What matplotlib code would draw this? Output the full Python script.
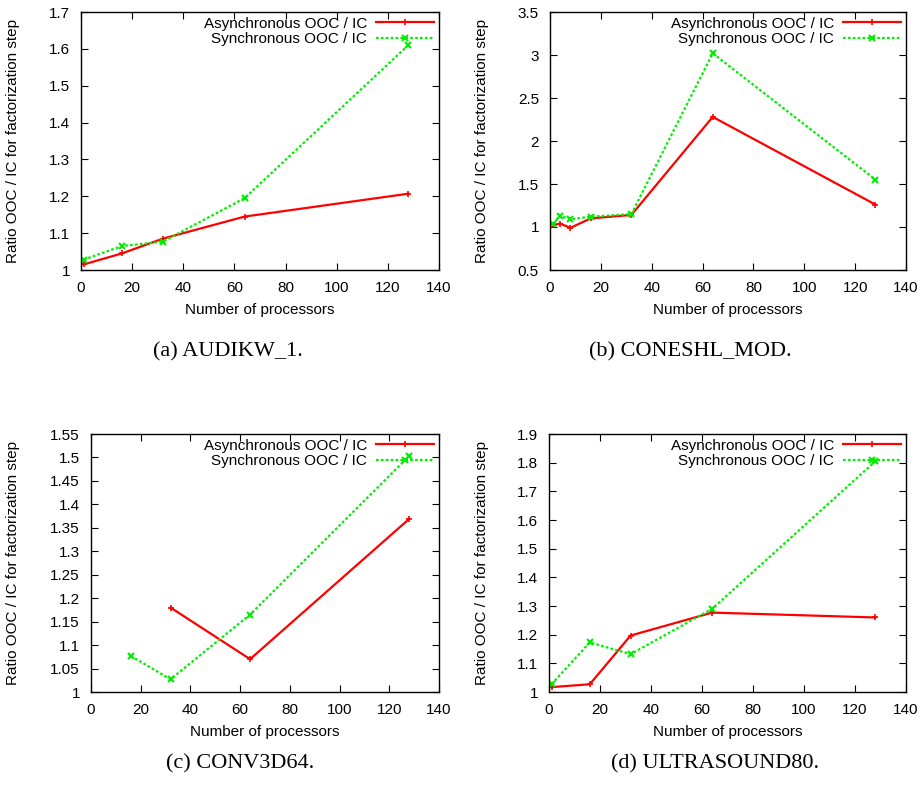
import numpy as np
import matplotlib
matplotlib.use("Agg")
import matplotlib.pyplot as plt

# data
a_async_x = [1, 16, 32, 64, 128]
a_async_y = [1.015, 1.045, 1.085, 1.145, 1.207]
a_sync_x = [1, 16, 32, 64, 128]
a_sync_y = [1.028, 1.065, 1.077, 1.195, 1.61]

b_async_x = [1, 4, 8, 16, 32, 64, 128]
b_async_y = [1.02, 1.04, 0.99, 1.10, 1.14, 2.28, 1.26]
b_sync_x = [1, 4, 8, 16, 32, 64, 128]
b_sync_y = [1.03, 1.13, 1.09, 1.12, 1.15, 3.02, 1.55]

c_async_x = [32, 64, 128]
c_async_y = [1.18, 1.07, 1.369]
c_sync_x = [16, 32, 64, 128]
c_sync_y = [1.077, 1.027, 1.165, 1.503]

d_async_x = [1, 16, 32, 64, 128]
d_async_y = [1.017, 1.027, 1.197, 1.277, 1.26]
d_sync_x = [1, 16, 32, 64, 128]
d_sync_y = [1.027, 1.173, 1.132, 1.29, 1.805]

captions = ["(a) AUDIKW_1.", "(b) CONESHL_MOD.", "(c) CONV3D64.", "(d) ULTRASOUND80."]
ylims = [(1, 1.7), (0.5, 3.5), (1, 1.55), (1, 1.9)]
ysteps = [0.1, 0.5, 0.05, 0.1]

series = [
    (a_async_x, a_async_y, a_sync_x, a_sync_y),
    (b_async_x, b_async_y, b_sync_x, b_sync_y),
    (c_async_x, c_async_y, c_sync_x, c_sync_y),
    (d_async_x, d_async_y, d_sync_x, d_sync_y),
]

W, H = 924, 790
fig = plt.figure(figsize=(W / 100, H / 100), dpi=100)
plt.rcParams['font.family'] = ['Liberation Sans', 'DejaVu Sans']

# axes boxes in pixels: left, right, top, bottom
boxes = [(81, 439, 12, 270), (550, 906, 12, 270),
         (91, 439, 434, 692), (549, 906, 434, 692)]
ylab_x = [20, 489, 20, 489]
cap_xy = [(228, 352), (690, 352), (240, 764), (715, 764)]

for i in range(4):
    l, r, t, b = boxes[i]
    ax = fig.add_axes([l / W, 1 - b / H, (r - l) / W, (b - t) / H])
    ax_x, ax_y, sx, sy = series[i]
    ax.plot(ax_x, ax_y, color='#ff0000', lw=1.6, marker='+', ms=4, mew=1.2,
            label='Asynchronous OOC / IC')
    ax.plot(sx, sy, color='#00ee00', lw=1.6, ls=(0, (1.2, 1.0)), marker='x', ms=4, mew=1.5,
            label='Synchronous OOC / IC')
    ax.set_xlim(0, 140)
    ax.set_xticks(np.arange(0, 141, 20))
    lo, hi = ylims[i]
    ax.set_ylim(lo, hi)
    yt = np.arange(lo, hi + 1e-9, ysteps[i])
    ax.set_yticks(yt)
    ax.set_yticklabels(['%g' % round(v, 2) for v in yt])
    ax.tick_params(direction='in', top=True, right=True, labelsize=11, length=5, pad=8)
    for sp in ax.spines.values():
        sp.set_linewidth(1.0)
    ax.set_xlabel('Number of processors', fontsize=11, labelpad=6)
    ax.set_ylabel('Ratio OOC / IC for factorization step', fontsize=11)
    ax.yaxis.set_label_coords(ylab_x[i] / W, 1 - (t + b) / 2 / H, transform=fig.transFigure)
    ax.legend(loc='upper right', frameon=False, markerfirst=False, fontsize=11,
              handlelength=3.8, borderpad=0.1, labelspacing=0.1, borderaxespad=0.2,
              handletextpad=0.6)
    cx, cy = cap_xy[i]
    fig.text(cx / W, 1 - cy / H, captions[i], ha='center', va='center',
             fontsize=16, family='Liberation Serif')

fig.savefig('out.png', dpi=100)
